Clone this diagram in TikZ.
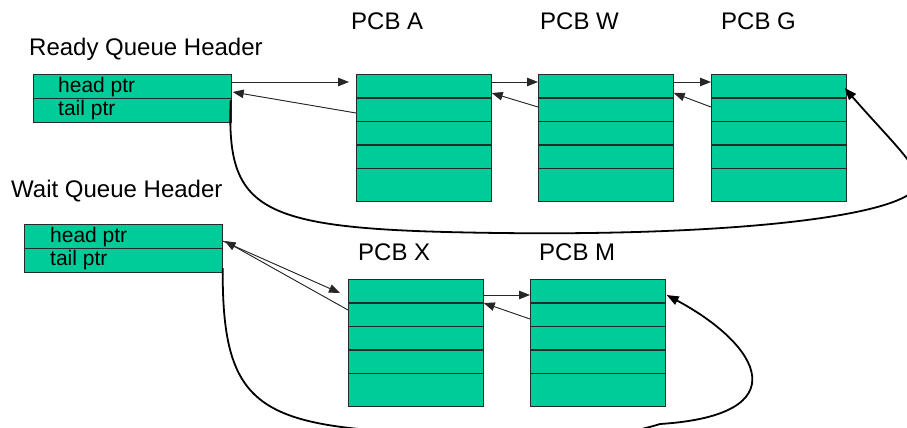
\documentclass[tikz,border=0pt]{standalone}
\usepackage{fontspec}
\setmainfont{Liberation Sans}
\usetikzlibrary{arrows.meta,calc}

\definecolor{cellfill}{RGB}{0,204,153}
\definecolor{celledge}{RGB}{35,45,40}

\tikzset{
  cellbox/.style={draw=celledge, fill=cellfill, line width=1.2pt, inner sep=0pt,
                  anchor=north west, minimum width=197.5pt, minimum height=24pt},
  pcbbox/.style={draw=celledge, fill=cellfill, line width=1.2pt, inner sep=0pt,
                 anchor=north west, minimum width=134.5pt, minimum height=127pt},
  rowline/.style={draw=celledge, line width=1.2pt},
  celltext/.style={anchor=base west, inner sep=0pt, font=\fontsize{21pt}{25pt}\selectfont},
  caption/.style={anchor=base west, inner sep=0pt, font=\fontsize{24pt}{28pt}\selectfont},
  ptr/.style={-{Triangle[length=11pt,width=8.5pt]}, line width=0.9pt, draw=black!85, fill=black},
  loopline/.style={-{Triangle[length=12pt,width=9pt]}, line width=1.8pt, draw=black}
}

\begin{document}
\begin{tikzpicture}[x=1pt,y=1pt]
\useasboundingbox (0,0) rectangle (907,-428);
\clip (0,0) rectangle (907,-428);

% ---- captions ----
\node[caption] (readyCap) at (29,-56) {Ready Queue Header};
\node[caption] (waitCap)  at (11,-197) {Wait Queue Header};
\node[caption] (capA) at (351,-30) {PCB A};
\node[caption] (capW) at (540,-30) {PCB W};
\node[caption] (capG) at (721,-30) {PCB G};
\node[caption] (capX) at (358,-260.5) {PCB X};
\node[caption] (capM) at (539,-260.5) {PCB M};

% ---- queue headers ----
\node[cellbox] (rhHead) at (33,-74) {};
\node[cellbox] (rhTail) at (33,-98) {};
\node[celltext] (rhHeadTxt) at (58,-92.3) {head ptr};
\node[celltext] (rhTailTxt) at (58,-115) {tail ptr};

\node[cellbox] (whHead) at (24,-224) {};
\node[cellbox] (whTail) at (24,-248) {};
\node[celltext] (whHeadTxt) at (50,-242.3) {head ptr};
\node[celltext] (whTailTxt) at (50,-265) {tail ptr};

% ---- process control blocks ----
\node[pcbbox] (pcbA) at (356,-74) {};
\node[pcbbox] (pcbW) at (538,-74) {};
\node[pcbbox] (pcbG) at (711,-74) {};
\node[pcbbox] (pcbX) at (348,-279) {};
\node[pcbbox] (pcbM) at (530,-279) {};

\foreach \p in {pcbA,pcbW,pcbG,pcbX,pcbM}
  \foreach \d in {24,47.5,71,94.5}
    \draw[rowline] ($(\p.north west)+(0,-\d)$) -- ($(\p.north east)+(0,-\d)$);

% ---- ready queue links ----
\draw[ptr] ($(rhHead.north east)+(0,-8)$) -- ($(pcbA.north west)+(-7,-8)$);
\draw[ptr] ($(pcbA.north west)+(0,-39)$) -- ($(rhHead.north east)+(1,-18)$);
\draw[ptr] ($(pcbA.north east)+(0,-8)$) -- ($(pcbW.north west)+(0,-8)$);
\draw[ptr] ($(pcbW.north west)+(0,-33)$) -- ($(pcbA.north east)+(0,-19)$);
\draw[ptr] ($(pcbW.north east)+(0,-8)$) -- ($(pcbG.north west)+(0,-8)$);
\draw[ptr] ($(pcbG.north west)+(0,-33)$) -- ($(pcbW.north east)+(0,-19)$);

\draw[loopline] ($(rhTail.north east)+(-1,-2)$)
  .. controls (226,-215) and (260,-230) .. (500,-233)
  .. controls (740,-236) and (918,-215) .. (918,-182)
  .. controls (918,-165) and (890,-140) .. ($(pcbG.north east)+(-2,-14)$);

% ---- wait queue links ----
\draw[ptr] ($(whHead.north east)+(0,-17)$) -- ($(pcbX.north west)+(-8,-14)$);
\draw[ptr] ($(pcbX.north west)+(0,-31)$) -- ($(whHead.north east)+(2,-17)$);
\draw[ptr] ($(pcbX.north east)+(0,-16)$) -- ($(pcbM.north west)+(0,-16)$);
\draw[ptr] ($(pcbM.north west)+(0,-40)$) -- ($(pcbX.north east)+(0,-24)$);

\draw[loopline] ($(whTail.north east)+(0,-20)$)
  .. controls (222,-390) and (250,-420) .. (370,-430)
  .. controls (490,-440) and (590,-446) .. (660,-424)
  .. controls (800,-415) and (760,-345) .. ($(pcbM.north east)+(1,-16)$);
\end{tikzpicture}
\end{document}
